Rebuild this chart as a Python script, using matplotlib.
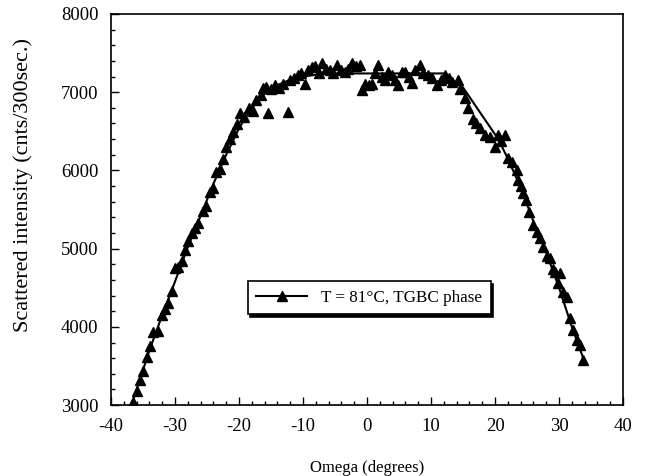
import matplotlib
matplotlib.use('Agg')
import matplotlib.pyplot as plt
from matplotlib.lines import Line2D
from matplotlib.ticker import MultipleLocator

plt.rcParams['font.family'] = ['Liberation Serif', 'DejaVu Serif']
plt.rcParams['axes.unicode_minus'] = False

# measured points (omega in degrees, counts per 300 s)
omega = [-36.6, -36.0, -35.5, -35.0, -34.4, -33.9, -33.4, -32.6, -32.0, -31.6,
         -31.1, -30.5, -30.0, -29.6, -28.9, -28.4, -28.0, -27.4, -26.9, -26.4,
         -25.6, -25.1, -24.6, -24.1, -23.6, -23.0, -22.5, -22.0, -21.4, -20.9,
         -20.3, -19.8, -19.2, -18.5, -17.8, -17.3, -16.6, -16.2, -15.8, -15.5,
         -15.0, -14.4, -13.7, -13.2, -12.3, -12.0, -11.4, -10.8, -10.3, -9.7,
         -9.2, -8.6, -8.1, -7.5, -7.0, -6.4, -5.8, -5.3, -4.7, -4.1,
         -3.5, -2.9, -2.3, -1.7, -1.1, -0.8, -0.3, 0.3, 0.8, 1.3,
         1.7, 2.3, 2.8, 3.3, 3.9, 4.4, 4.8, 5.5, 6.0, 6.6,
         7.0, 7.5, 8.3, 8.8, 9.5, 10.1, 10.9, 11.6, 12.2, 12.8,
         13.3, 14.2, 14.6, 15.3, 15.8, 16.6, 17.1, 17.7, 18.4, 19.2,
         20.0, 20.5, 21.0, 21.6, 22.0, 22.7, 23.4, 23.6, 24.0, 24.4,
         24.9, 25.3, 25.9, 26.6, 27.0, 27.5, 28.1, 28.6, 29.0, 29.4,
         29.8, 30.2, 30.6, 31.25, 31.7, 32.2, 32.8, 33.3, 33.75]
counts = [3040, 3180, 3320, 3440, 3610, 3750, 3940, 3950, 4150, 4230,
          4310, 4460, 4750, 4760, 4840, 4980, 5100, 5200, 5270, 5330,
          5480, 5540, 5730, 5770, 5980, 6020, 6150, 6300, 6400, 6490,
          6590, 6730, 6680, 6800, 6760, 6900, 6970, 7050, 7070, 6730,
          7040, 7090, 7050, 7100, 6750, 7150, 7180, 7220, 7250, 7100,
          7290, 7320, 7330, 7250, 7370, 7300, 7290, 7250, 7350, 7280,
          7260, 7300, 7370, 7330, 7350, 7030, 7100, 7090, 7100, 7250,
          7350, 7200, 7150, 7260, 7220, 7150, 7090, 7260, 7260, 7200,
          7120, 7280, 7350, 7250, 7220, 7180, 7090, 7150, 7220, 7180,
          7130, 7160, 7040, 6930, 6800, 6660, 6600, 6540, 6450, 6430,
          6300, 6450, 6380, 6450, 6160, 6110, 6000, 5880, 5800, 5710,
          5620, 5470, 5300, 5210, 5140, 5020, 4900, 4880, 4740, 4700,
          4560, 4690, 4450, 4380, 4110, 3960, 3830, 3770, 3575]

# fitted curve
fit_x = [-36.8, -34, -32, -30, -28, -26, -24, -22, -20, -18, -16, -14, -12,
         -10, -8, -6, 12, 13, 15, 20.5, 22, 24, 26, 28, 30, 32, 34]
fit_y = [3000, 3700, 4150, 4580, 5020, 5420, 5830, 6200, 6540, 6800, 6980,
         7090, 7160, 7200, 7225, 7240, 7240, 7180, 7060, 6400, 6150, 5780,
         5350, 4950, 4500, 4000, 3550]

fig = plt.figure(figsize=(6.47, 4.76), dpi=100)
ax = fig.add_axes([0.1716, 0.149, 0.7914, 0.8216])

ax.plot(fit_x, fit_y, color='black', linewidth=1.5)
ax.plot(omega, counts, linestyle='none', marker='^', color='black', markersize=7.5)

ax.set_xlim(-40, 40)
ax.set_ylim(3000, 8000)
ax.xaxis.set_major_locator(MultipleLocator(10))
ax.xaxis.set_minor_locator(MultipleLocator(2))
ax.yaxis.set_major_locator(MultipleLocator(1000))
ax.yaxis.set_minor_locator(MultipleLocator(200))
ax.tick_params(which='major', direction='in', length=6, width=1, labelsize=13.5)
ax.tick_params(which='minor', direction='in', length=3, width=1)
ax.tick_params(axis='x', which='major', pad=9)
ax.tick_params(axis='y', which='major', pad=9)
for s in ax.spines.values():
    s.set_linewidth(1.2)

ax.set_xlabel('Omega (degrees)', fontsize=12, labelpad=18)
ax.set_ylabel('Scattered intensity (cnts/300sec.)', fontsize=16)
ax.yaxis.set_label_coords(-0.152, 0.563)

handle = Line2D([], [], color='black', linewidth=1.5, marker='^', markersize=7)
leg = ax.legend([handle], ['T = 81\u00b0C, TGBC phase'], loc='center',
                bbox_to_anchor=(0.504, 0.274), fontsize=12.3, handlelength=3,
                borderpad=0.5, fancybox=False, framealpha=1, edgecolor='black',
                shadow={'color': 'black', 'alpha': 1})
leg.get_frame().set_linewidth(1.2)

fig.savefig('out.png', dpi=100)
